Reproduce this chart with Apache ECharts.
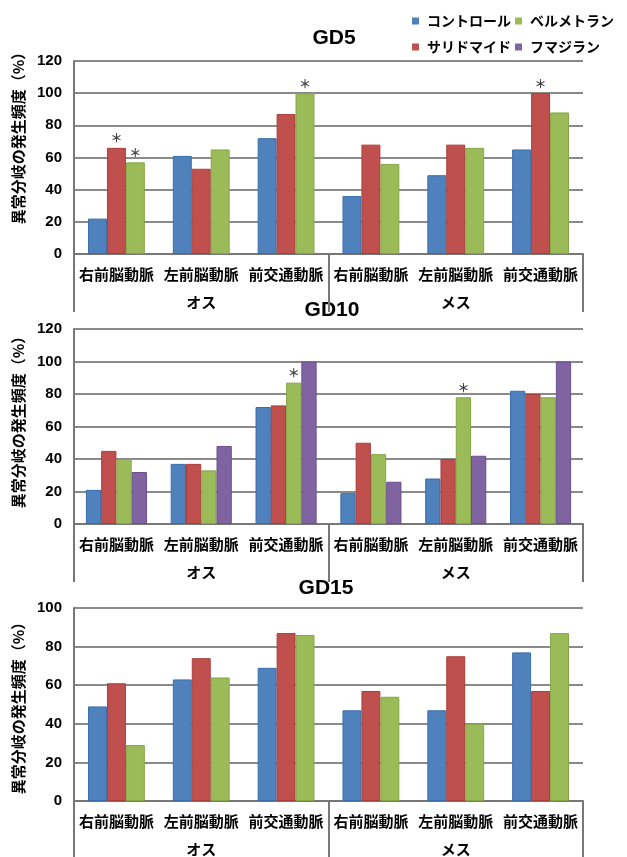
<!DOCTYPE html>
<html><head><meta charset="utf-8">
<script src="https://cdn.jsdelivr.net/npm/echarts@6/dist/echarts.min.js"></script>
<style>html,body{margin:0;padding:0;background:#fff}#c{width:627px;height:857px}</style>
</head><body><div id="c"></div>
<script>
// ---- data ----
const categories = ['右前脳動脈','左前脳動脈','前交通動脈','右前脳動脈','左前脳動脈','前交通動脈'];
const groups = ['オス','メス'];
const seriesNames = ['コントロール','サリドマイド','ベルメトラン','フマジラン'];
const panelTitles = ['GD5','GD10','GD15'];
const yAxisName = '異常分岐の発生頻度（%）';

const gd5Control = [22, 61, 72, 36, 49, 65];
const gd5Thal    = [66, 53, 87, 68, 68, 100];
const gd5Green   = [57, 65, 100, 56, 66, 88];
const gd5Stars   = {1: [0, 5], 2: [0, 2]};

const gd10Control = [21, 37, 72, 19, 28, 82];
const gd10Thal    = [45, 37, 73, 50, 40, 80];
const gd10Green   = [40, 33, 87, 43, 78, 78];
const gd10Fuma    = [32, 48, 100, 26, 42, 100];
const gd10Stars   = {2: [2, 4]};

const gd15Control = [49, 63, 69, 47, 47, 77];
const gd15Thal    = [61, 74, 87, 57, 75, 57];
const gd15Green   = [29, 64, 86, 54, 40, 87];
const gd15Stars   = {};

const yMax = [120, 120, 100];

// ---- styles ----
const JP = "'Noto Sans CJK JP', 'Noto Sans CJK SC', sans-serif";
const NUM = "'Liberation Sans', Arial, sans-serif";
const fill = ['#4F81BD', '#C0504D', '#9BBB59', '#8064A2'];
const edge = ['#3A6DAE', '#A93E3B', '#86A646', '#6A4F8E'];

const panelData = [
  {vals: [gd5Control, gd5Thal, gd5Green], stars: gd5Stars},
  {vals: [gd10Control, gd10Thal, gd10Green, gd10Fuma], stars: gd10Stars},
  {vals: [gd15Control, gd15Thal, gd15Green], stars: gd15Stars}
];
const layout = [
  {top: 61, height: 193, gap: '33%', titleX: 334, titleY: 38, namePad: 46},
  {top: 329, height: 195, gap: '28%', titleX: 332, titleY: 310, namePad: 16},
  {top: 608, height: 193, gap: '33%', titleX: 326, titleY: 588, namePad: 0}
];

const grid = [], xAxis = [], yAxis = [], series = [], graphic = [];
layout.forEach((L, p) => {
  grid.push({left: 74, width: 509, top: L.top, height: L.height});
  xAxis.push({
    type: 'category', gridIndex: p, data: categories, position: 'bottom',
    axisLine: {show: true, lineStyle: {color: '#777', width: 2}},
    axisTick: {show: false},
    axisLabel: {interval: 0, margin: 13, fontFamily: JP, fontWeight: 'bold', fontSize: 15, color: '#000'}
  });
  xAxis.push({
    type: 'category', gridIndex: p, data: groups, position: 'bottom',
    axisLine: {show: false},
    axisTick: {show: true, alignWithLabel: false, length: 58, lineStyle: {color: '#777', width: 2}},
    axisLabel: {interval: 0, margin: 41, fontFamily: JP, fontWeight: 'bold', fontSize: 15, color: '#000'}
  });
  yAxis.push({
    type: 'value', gridIndex: p, min: 0, max: yMax[p], interval: 20,
    name: yAxisName, nameLocation: 'middle', nameGap: 42, nameRotate: 90,
    nameTextStyle: {fontFamily: JP, fontWeight: 'bold', fontSize: 15, color: '#000', padding: [0, 0, 0, L.namePad]},
    axisLine: {show: true, lineStyle: {color: '#777', width: 2}},
    axisTick: {show: false},
    splitLine: {show: true, lineStyle: {color: '#8a8a8a', width: 2}},
    axisLabel: {margin: 12, fontFamily: NUM, fontWeight: 'bold', fontSize: 15, color: '#000', padding: [11, 0, 0, 0]}
  });
  const pd = panelData[p];
  pd.vals.forEach((vals, s) => {
    const starIdx = pd.stars[s] || [];
    series.push({
      type: 'bar', name: seriesNames[s], xAxisIndex: p * 2, yAxisIndex: p,
      barGap: '0%', barCategoryGap: L.gap,
      itemStyle: {color: fill[s], borderColor: edge[s], borderWidth: 1},
      data: vals.map((v, i) => starIdx.includes(i)
        ? {value: v, label: {show: true, position: 'top', distance: 3, formatter: '＊', fontFamily: JP, fontWeight: 'bold', fontSize: 12, color: '#444'}}
        : v)
    });
  });
  graphic.push({
    type: 'text', x: L.titleX, y: L.titleY,
    style: {text: panelTitles[p], textAlign: 'center', textVerticalAlign: 'middle', font: "bold 21px 'Liberation Sans', Arial, sans-serif", fill: '#000'}
  });
});

const legendCommon = {
  icon: 'rect', itemWidth: 7, itemHeight: 7, itemGap: 4, left: 412, width: 215, padding: 0,
  orient: 'horizontal',
  itemStyle: {borderWidth: 0},
  textStyle: {fontFamily: JP, fontWeight: 'bold', fontSize: 14, color: '#000', padding: [0, 0, 0, 3]}
};

const chart = echarts.init(document.getElementById('c'), null, {renderer: 'canvas'});
chart.setOption({
  animation: false,
  backgroundColor: '#fff',
  legend: [
    Object.assign({}, legendCommon, {top: 14, data: [seriesNames[0], seriesNames[2]]}),
    Object.assign({}, legendCommon, {top: 40, data: [seriesNames[1], seriesNames[3]]})
  ],
  grid, xAxis, yAxis, series, graphic
});
</script>
</body></html>
